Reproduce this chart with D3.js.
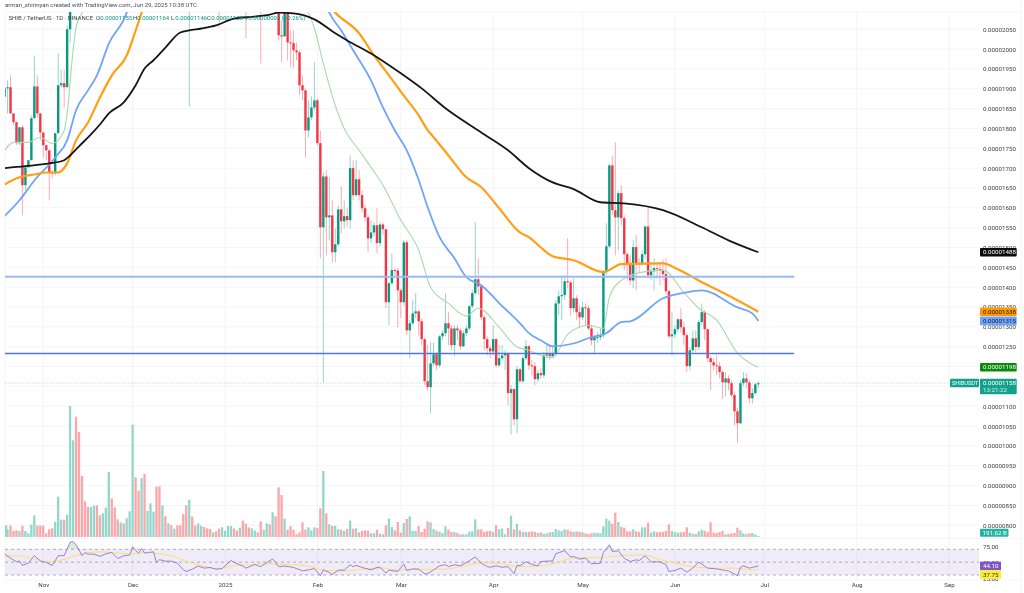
<!DOCTYPE html>
<html><head><meta charset="utf-8">
<script src="https://d3js.org/d3.v7.min.js"></script>
<style>
html,body{margin:0;padding:0;background:#fff;overflow:hidden}
svg{display:block;font-family:Roboto,"Liberation Sans",sans-serif;filter:blur(0.3px)}
</style></head><body>
<svg id="c" width="1024" height="593"></svg>
<script>
// Prices are in units of 0.00000001 USDT. Day index 0 = 2024-10-19, one candle per day.
const firstDay = new Date(Date.UTC(2024,9,19));
const firstOpen = 1880;
const closes = [1901,1904,1838,1816,1763,1803,1657,1702,1720,1826,1906,1838,1790,1758,1745,1690,1687,1788,1909,1914,1904,2050,2185,
2400,2350,2300,2250,2220,2210,2240,2260,2240,2230,2250,2300,2420,2380,2350,2330,2350,2340,2360,2420,2650,2550,2500,2600,2520,2540,2570,2600,2480,2380,2420,2400,2420,2400,2420,2400,2380,2320,2220,2250,2200,2170,2190,2210,2190,2170,2160,2180,2165,2150,2175,2190,2210,2230,2215,2200,2220,2190,2160,2140,2160,2170,2160,2130,2150,2190,2170,2200,2170,
2035,2032,2103,2017,2015,1997,1992,1909,1896,1795,1828,1853,1871,1763,1551,1679,1576,1581,1488,1508,1596,1566,1579,1569,1700,1632,1672,1632,1599,1576,1523,1538,1556,1511,1558,1546,1362,1410,1443,1442,1392,1362,1513,1291,1309,1334,1339,1314,1269,1163,1148,1208,1231,1203,1276,1284,1309,1296,1254,1296,1291,1251,1284,1296,1352,1385,1420,1402,1324,1269,1246,1238,1269,1203,1221,1228,1233,1133,1143,1067,1193,1163,1221,1251,1203,1201,1168,1183,1178,1228,1231,1226,1233,1359,1377,1380,1415,1412,1347,1372,1337,1324,1349,1347,1296,1266,1274,1274,1279,1438,1503,1707,1594,1576,1637,1574,1483,1460,1417,1501,1460,1458,1483,1553,1430,1440,1448,1446,1443,1433,1390,1276,1281,1294,1319,1299,1279,1201,1241,1271,1249,1312,1337,1294,1221,1211,1203,1201,1186,1160,1170,1158,1128,1087,1057,1158,1170,1160,1120,1133,1155,1158];
const highs = [1904,1921,1934,1838,1816,1803,1808,1707,1720,1833,1984,1934,1838,1790,1758,1745,1695,1788,1989,1947,1947,2060,2210,
2440,2420,2380,2320,2280,2260,2290,2300,2290,2270,2290,2340,2470,2440,2400,2370,2380,2380,2400,2460,2700,2680,2580,2640,2620,2580,2610,2650,2620,2500,2470,2450,2450,2440,2450,2440,2420,2400,2340,2300,2270,2220,2230,2250,2230,2210,2190,2210,2200,2180,2200,2220,2240,2260,2250,2230,2250,2240,2200,2180,2190,2200,2190,2170,2180,2220,2210,2230,2220,
2103,2073,2110,2110,2047,2047,2017,1997,1934,1901,1871,1881,1967,1876,1795,1689,1695,1677,1619,1548,1606,1654,1619,1601,1732,1720,1720,1695,1644,1606,1581,1569,1564,1599,1564,1564,1546,1412,1485,1448,1448,1397,1518,1518,1317,1367,1385,1342,1322,1271,1254,1261,1261,1236,1279,1291,1385,1337,1304,1304,1304,1296,1291,1304,1354,1392,1564,1473,1405,1329,1276,1254,1304,1271,1254,1254,1241,1236,1153,1145,1201,1196,1228,1266,1254,1216,1211,1191,1196,1236,1254,1254,1254,1367,1392,1430,1430,1523,1417,1422,1380,1354,1362,1359,1354,1304,1279,1286,1296,1443,1561,1712,1732,1765,1644,1657,1581,1488,1480,1518,1531,1473,1493,1556,1601,1463,1473,1463,1463,1470,1473,1392,1337,1304,1322,1347,1312,1286,1249,1291,1291,1317,1359,1342,1296,1228,1221,1228,1211,1191,1186,1178,1165,1135,1095,1165,1186,1183,1165,1145,1160,1164];
const lows = [1879,1838,1838,1808,1758,1758,1581,1644,1702,1720,1826,1826,1770,1727,1720,1619,1674,1682,1788,1904,1853,1904,2015,
2170,2320,2270,2220,2190,2180,2190,2220,2220,2200,2210,2240,2290,2360,2320,2300,2310,2310,2320,2350,2400,2500,2470,2480,2490,2500,2520,2560,2460,2350,2360,2370,2390,2380,2390,2380,2350,2300,2200,1855,2170,2140,2150,2170,2160,2140,2130,2140,2140,2055,2130,2160,2170,2190,2180,2170,2180,2160,2027,2110,2120,2140,2130,1964,2110,2140,2140,2150,2140,
2022,1967,2032,1972,1954,1952,1972,1884,1871,1727,1778,1821,1846,1758,1473,1160,1480,1518,1463,1463,1503,1536,1548,1553,1548,1619,1627,1619,1589,1564,1488,1511,1528,1485,1503,1531,1347,1304,1405,1430,1299,1322,1354,1279,1221,1304,1322,1279,1254,1153,1140,1082,1201,1191,1198,1266,1276,1254,1241,1226,1266,1241,1249,1276,1291,1347,1380,1380,1317,1241,1228,1221,1228,1196,1198,1216,1191,1102,1029,1052,1032,1158,1158,1216,1191,1178,1153,1160,1170,1170,1221,1216,1221,1228,1329,1317,1367,1397,1329,1337,1317,1296,1317,1304,1291,1254,1233,1259,1266,1271,1430,1498,1581,1480,1493,1556,1443,1417,1405,1397,1392,1438,1455,1473,1422,1417,1392,1422,1405,1417,1380,1271,1228,1271,1286,1286,1254,1186,1191,1236,1236,1241,1304,1266,1211,1140,1191,1178,1170,1118,1125,1140,1123,1052,1007,1055,1150,1145,1107,1107,1128,1146];
// Relative volume, last bar = 191.62 B
const volumes = [35,23,34,19,20,18,34,18,11,37,65,34,35,34,11,23,26,45,121,52,52,67,393,290,361,315,183,107,90,90,94,95,65,71,88,195,116,89,53,44,41,56,77,337,179,139,177,189,78,101,76,151,152,95,62,41,35,25,35,35,69,95,112,61,34,41,34,30,26,24,14,17,25,29,19,33,33,26,19,28,49,40,29,26,19,14,47,22,41,38,74,62,149,126,55,22,32,22,8,14,44,22,29,20,29,27,86,198,71,38,33,33,23,22,18,24,49,25,26,14,18,20,19,11,11,22,10,8,35,55,30,20,45,
13,42,54,62,18,18,33,15,25,47,44,24,19,16,12,32,22,15,15,12,8,8,8,16,17,53,23,23,15,17,18,15,35,23,25,8,27,64,23,40,20,15,15,15,17,15,12,14,10,11,14,15,24,20,18,23,22,17,15,17,15,14,11,9,11,13,12,11,32,55,49,40,73,45,31,28,17,17,23,17,15,29,29,43,13,17,14,15,15,18,38,18,15,13,14,15,29,13,10,9,17,22,19,15,44,13,12,15,18,8,9,11,12,28,20,11,8,11,12,8,3];

const maBlackDays = [0,7,15,20,22,25,29,32,35,40,44,47,50,54,59,62,66,71,77,84,89,92,97,104,111,115,123,133,140,148,160,169,176,184,191,200,208,221,234,243,253];
const maBlack = [1700,1705,1712,1720,1732,1755,1785,1810,1838,1866,1909,1951,1972,2004,2042,2047,2052,2060,2077,2082,2087,2092,2090,2075,2040,2022,1989,1939,1901,1851,1790,1745,1700,1664,1647,1614,1611,1594,1551,1518,1488];
const maOrangeDays = [0,5,10,14,18,21,24,28,32,36,41,44,46,48,60,75,90,104,111,119,124,129,134,139,142,144,149,155,160,166,173,176,180,184,191,201,207,221,226,233,246,253];
const maOrange = [1659,1677,1684,1689,1689,1712,1770,1815,1878,1934,1984,2047,2092,2140,2260,2300,2290,2160,2092,2040,1984,1934,1883,1833,1796,1778,1732,1677,1652,1599,1538,1526,1500,1478,1468,1438,1458,1460,1445,1417,1367,1338];
const maBlueDays = [0,5,10,17,21,24,28,31,35,41,44,55,70,85,100,108,109,113,117,123,127,131,135,139,142,146,151,155,160,166,173,176,180,184,191,197,202,207,210,221,229,234,246,251,253];
const maBlue = [1579,1619,1669,1727,1770,1846,1896,1934,2014,2092,2170,2400,2450,2350,2200,2110,2092,2047,1997,1921,1853,1795,1745,1670,1602,1526,1473,1425,1405,1360,1309,1284,1266,1251,1258,1274,1284,1312,1314,1372,1387,1392,1349,1334,1315];
const maGreenDays = [0,3,8,12,16,20,21,23,24,26,30,45,60,75,85,98,102,104,107,111,114,119,123,127,133,139,143,149,155,159,166,172,176,180,184,189,196,201,203,207,214,221,228,233,239,246,253];
const maGreen = [1745,1765,1765,1778,1762,1795,1838,1997,2055,2092,2250,2550,2500,2230,2200,2130,2092,2052,1964,1858,1800,1745,1702,1657,1569,1493,1400,1359,1327,1347,1299,1249,1241,1228,1223,1281,1304,1296,1375,1417,1438,1443,1387,1347,1317,1234,1198];

const rsiDays = [0,2,4,5,6,8,10,12,14,16,18,20,22,23,24,25,26,27,28,30,32,34,36,38,40,42,43,44,45,46,47,48,50,51,52,54,56,58,60,61,63,65,67,69,71,73,76,77,80,81,84,86,88,90,92,94,97,100,102,104,106,107,109,110,112,114,116,117,118,120,123,125,126,128,129,132,134,135,137,139,141,142,144,146,148,149,151,153,156,158,160,162,163,165,167,169,171,172,173,175,177,179,180,184,185,188,190,191,193,195,197,200,201,203,204,206,208,210,212,213,215,217,220,222,223,225,227,229,231,233,236,239,242,243,246,247,248,250,253];
const rsiValues = [63,56,50.5,52,45,48.5,60,52,49.5,45,60,60,81,82,77,69,60,65,62.5,62.5,59,63,65,55.7,60,61,74,68,64,71,64,65,66,49.5,54,51.5,51.5,48.5,38,35.5,39,44,40.7,41.7,39,40,52.6,49.5,44,40.7,46.4,43,49.5,55,43,44,41.7,36.5,38,40,29,38,34,31,37.5,37.5,46,43,45,41.7,38,41.7,42,33,37.5,35.5,47,37,39.6,39,32,32,38,44.3,46,43,46,44.3,52,58,48.4,43,42,44.3,42,43,32,45,44.3,50.5,46.4,44.3,51,52,63,68,57.8,58.8,54.7,56.2,47.5,48.4,65,77,66.6,67.6,56,51,53.6,52.6,60,50.5,50.5,46,35.5,37,40.7,34.4,40.7,50,40.7,39.6,37,36.5,28.7,42.2,44.3,40.7,44.1];
const rsiMaDays = [0,4,10,15,21,26,32,36,43,48,52,57,61,66,71,77,82,88,94,101,108,115,121,127,132,138,147,155,161,166,173,181,185,192,200,205,214,220,225,231,239,245,249,253];
const rsiMa = [58.8,59.8,54.7,50,56,63,66,65,62.8,65,62.8,58.6,51,45,39.7,44.4,46.4,47.5,46.4,44.8,37,36.5,39.6,40.7,37.5,39,39,44.8,48.9,47.9,43,44.3,48.9,56.8,56.8,59.3,61.4,54,48.9,42.7,40.7,40.7,38.6,37.75];

const levelPrices = [1426,1233];
const levelColors = ["#9bb8fb","#4f74e6"];
const levelEnd = new Date(Date.UTC(2025,6,11));
// Grid sits at every 50; the 1150 and 1200 labels are fully covered by price tags in the reference.
const gridPrices = d3.range(800,2051,50);
const priceTicks = gridPrices.filter(p=>p!==1150&&p!==1200);
const monthDates = [[2024,10],[2024,11],[2025,0],[2025,1],[2025,2],[2025,3],[2025,4],[2025,5],[2025,6],[2025,7],[2025,8]].map(d=>new Date(Date.UTC(d[0],d[1],1)));
const monthLabels = ["Nov","Dec","2025","Feb","Mar","Apr","May","Jun","Jul","Aug","Sep"];
const titleText = "arman_shirinyan created with TradingView.com, Jun 29, 2025 10:38 UTC";
const symbolText = "SHIB / TetherUS · 1D · BINANCE";
const ohlcNames = ["O","H","L","C"];
const ohlcValues = ["0.00001155","0.00001164","0.00001146","0.00001158"];
const changeText = "+0.00000003 (+0.26%)";

const UP="#089981", DOWN="#f23645";
const svg=d3.select("#c");
const paneL=5,paneR=979,paneT=12,volBase=537,rsiBottom=580;

const x=d3.scaleUtc().domain([monthDates[0],monthDates[10]]).range([43.3,949]);
const dayX=i=>x(d3.utcDay.offset(firstDay,i));
const y=d3.scaleLinear().domain([800,2050]).range([525.2,29.3]);
const yVol=d3.scaleLinear().domain([0,393]).range([volBase,406]);
const yRsi=d3.scaleLinear().domain([30,70]).range([575,549.3]);
const fmtPrice=v=>(v*1e-8).toFixed(8);

const defs=svg.append("defs");
defs.append("clipPath").attr("id","main").append("rect").attr("x",paneL).attr("y",paneT).attr("width",paneR-paneL).attr("height",volBase-paneT);
defs.append("clipPath").attr("id","over").append("rect").attr("x",paneL).attr("y",540).attr("width",paneR-paneL).attr("height",yRsi(70)-540);
defs.append("clipPath").attr("id","under").append("rect").attr("x",paneL).attr("y",yRsi(30)).attr("width",paneR-paneL).attr("height",rsiBottom-yRsi(30));

// grid
const grid=svg.append("g").attr("stroke","#f2f3f6").attr("stroke-width",0.8);
grid.selectAll("line.h").data(gridPrices).join("line").attr("class","h").attr("x1",paneL).attr("x2",paneR).attr("y1",d=>y(d)).attr("y2",d=>y(d));
grid.selectAll("line.v").data(monthDates).join("line").attr("class","v").attr("x1",d=>x(d)).attr("x2",d=>x(d)).attr("y1",paneT).attr("y2",rsiBottom-1);
grid.append("line").attr("x1",paneL).attr("x2",paneL).attr("y1",paneT).attr("y2",rsiBottom);
grid.append("line").attr("x1",1021).attr("x2",1021).attr("y1",0).attr("y2",593);
grid.append("line").attr("x1",paneL).attr("x2",1021).attr("y1",538.5).attr("y2",538.5);
grid.append("line").attr("x1",paneL).attr("x2",1021).attr("y1",rsiBottom).attr("y2",rsiBottom);
grid.append("line").attr("x1",paneL).attr("x2",1021).attr("y1",paneT).attr("y2",paneT);

const days=closes.map((c,i)=>({i,c,h:highs[i],l:lows[i],o:i?closes[i-1]:firstOpen,v:volumes[i]}));

// volume
svg.append("g").selectAll("rect").data(days).join("rect")
 .attr("x",d=>Math.max(paneL,dayX(d.i)-1.2)).attr("width",2.3)
 .attr("y",d=>yVol(d.v)).attr("height",d=>volBase-yVol(d.v))
 .attr("fill",d=>d.c>=d.o?"#93d6cb":"#f9a7a9");

// RSI
svg.append("rect").attr("x",paneL).attr("width",paneR-paneL).attr("y",yRsi(70)).attr("height",yRsi(30)-yRsi(70)).attr("fill","#7e57c2").attr("fill-opacity",0.12);
const rsiG=svg.append("g");
[70,50,30].forEach(v=>rsiG.append("line").attr("x1",paneL).attr("x2",paneR).attr("y1",yRsi(v)).attr("y2",yRsi(v)).attr("stroke","#a09aae").attr("stroke-width",0.8).attr("stroke-dasharray","3 3"));
const rsiPts=rsiDays.map((d,k)=>[dayX(d),rsiValues[k]]);
const rsiArea=base=>d3.area().x(p=>p[0]).y0(yRsi(base)).y1(p=>yRsi(p[1]));
svg.append("path").attr("d",rsiArea(70)(rsiPts)).attr("fill","#4caf50").attr("fill-opacity",0.22).attr("clip-path","url(#over)");
svg.append("path").attr("d",rsiArea(30)(rsiPts)).attr("fill","#f23645").attr("fill-opacity",0.18).attr("clip-path","url(#under)");
svg.append("path").attr("d",d3.line().x(p=>p[0]).y(p=>yRsi(p[1])).curve(d3.curveMonotoneX)(rsiMaDays.map((d,k)=>[dayX(d),rsiMa[k]]))).attr("fill","none").attr("stroke","#f7e36a").attr("stroke-width",1);
svg.append("path").attr("d",d3.line().x(p=>p[0]).y(p=>yRsi(p[1]))(rsiPts)).attr("fill","none").attr("stroke","#9a7fd6").attr("stroke-width",1);

const main=svg.append("g").attr("clip-path","url(#main)");
// candles
const candles=main.selectAll("g").data(days).join("g");
candles.append("line").attr("x1",d=>dayX(d.i)).attr("x2",d=>dayX(d.i)).attr("y1",d=>y(d.h)).attr("y2",d=>y(d.l))
 .attr("stroke",d=>d.c>=d.o?UP:DOWN).attr("stroke-width",1).attr("stroke-opacity",0.42);
candles.append("rect").attr("x",d=>dayX(d.i)-1.2).attr("width",2.4)
 .attr("y",d=>y(Math.max(d.o,d.c))).attr("height",d=>Math.max(1,Math.abs(y(d.o)-y(d.c))))
 .attr("fill",d=>d.c>=d.o?UP:DOWN);

// price line
const lastClose=closes[closes.length-1];
svg.append("line").attr("x1",paneL).attr("x2",950).attr("y1",y(lastClose)).attr("y2",y(lastClose)).attr("stroke",UP).attr("stroke-opacity",0.32).attr("stroke-width",0.8).attr("stroke-dasharray","1.5 1.5");

// levels
levelPrices.forEach((p,k)=>svg.append("line").attr("x1",paneL).attr("x2",x(levelEnd)).attr("y1",y(p)).attr("y2",y(p)).attr("stroke",levelColors[k]).attr("stroke-width",k?1.5:2));

// moving averages
const ma=(days_,vals,color,w)=>main.append("path").attr("d",d3.line().x(p=>p[0]).y(p=>y(p[1])).curve(d3.curveMonotoneX)(days_.map((d,k)=>[dayX(d),vals[k]]))).attr("fill","none").attr("stroke",color).attr("stroke-width",w).attr("stroke-linejoin","round");
ma(maGreenDays,maGreen,"#a9d9ab",1.1);
ma(maBlueDays,maBlue,"#6ea5fa",1.8);
ma(maOrangeDays,maOrange,"#ff9f14",2.2);
ma(maBlackDays,maBlack,"#161616",1.8);

// axes
const fontSize=6.2;
const ax=svg.append("g").attr("transform","translate(983,0)").call(d3.axisRight(y).tickValues(priceTicks).tickSize(0).tickPadding(0).tickFormat(fmtPrice));
ax.select(".domain").remove();
ax.selectAll("text").attr("font-size",fontSize).attr("font-family","Roboto").attr("fill","#3a3e4a");
const axB=svg.append("g").attr("transform","translate(0,583)").call(d3.axisBottom(x).tickValues(monthDates).tickSize(0).tickPadding(0).tickFormat((d,k)=>monthLabels[k]));
axB.select(".domain").remove();
axB.selectAll("text").attr("font-size",fontSize).attr("font-family","Roboto").attr("fill","#3a3e4a");
const axR=svg.append("g").attr("transform","translate(983,0)").call(d3.axisRight(yRsi).tickValues([75,50,25]).tickSize(0).tickPadding(0).tickFormat(d=>d.toFixed(2)));
axR.select(".domain").remove();
axR.selectAll("text").attr("font-size",fontSize).attr("font-family","Roboto").attr("fill","#3a3e4a");

// text
const txt=(t,px,py,fill,a)=>svg.append("text").text(t).attr("x",px).attr("y",py).attr("fill",fill||"#3a3e4a").attr("font-size",6).attr("text-anchor",a||"start");
txt(titleText,5,7,"#4a4e5a");
txt(symbolText,8.5,20,"#3a3e4a");
[96,133,171,207].forEach((px,k)=>{ txt(ohlcNames[k],px,20,"#3a3e4a"); txt(ohlcValues[k],px+4.3,20,UP); });
txt(changeText,245,20,UP);

// price labels
const tag=(label,cy,fill,color,w,h)=>{ h=h||8.6; w=w||36.7;
 svg.append("rect").attr("x",980).attr("y",cy-h/2).attr("width",w).attr("height",h).attr("rx",1).attr("fill",fill);
 svg.append("text").text(label).attr("x",983).attr("y",cy+2.1).attr("font-size",fontSize).attr("fill",color);
};
tag(fmtPrice(maBlack[maBlack.length-1]),y(maBlack[maBlack.length-1]),"#0c0c0c","#fff");
tag(fmtPrice(maOrange[maOrange.length-1]),y(maOrange[maOrange.length-1]),"#ff9800","#222");
tag(fmtPrice(maBlue[maBlue.length-1]),y(maBlue[maBlue.length-1]),"#6ea5fa","#222");
tag(fmtPrice(maGreen[maGreen.length-1]),y(maGreen[maGreen.length-1]),"#0c8a0c","#fff");
// current price tag
const py=y(lastClose);
svg.append("rect").attr("x",980).attr("y",py-4.4).attr("width",36.7).attr("height",15.4).attr("rx",1).attr("fill","#15a08c");
svg.append("text").text(fmtPrice(lastClose)).attr("x",983).attr("y",py+2).attr("font-size",fontSize).attr("fill","#fff");
svg.append("text").text("13:21:22").attr("x",983).attr("y",py+9).attr("font-size",fontSize).attr("fill","#d5f0ea");
svg.append("rect").attr("x",950).attr("y",py-4.4).attr("width",29).attr("height",8.6).attr("rx",1).attr("fill","#15a08c");
svg.append("text").text("SHIBUSDT").attr("x",952).attr("y",py+2).attr("font-size",5.6).attr("fill","#fff");
// volume + RSI tags
svg.append("rect").attr("x",980).attr("y",528.8).attr("width",28.5).attr("height",8).attr("rx",1).attr("fill","#26b3a3");
svg.append("text").text("191.62 B").attr("x",982.5).attr("y",534.9).attr("font-size",fontSize).attr("fill","#fff");
const rsiLast=rsiValues[rsiValues.length-1], rsiMaLast=rsiMa[rsiMa.length-1];
svg.append("rect").attr("x",980).attr("y",yRsi(rsiLast)-4.3).attr("width",21).attr("height",8.4).attr("fill","#7e57c2");
svg.append("text").text(rsiLast.toFixed(2)).attr("x",983).attr("y",yRsi(rsiLast)+2.1).attr("font-size",fontSize).attr("fill","#fff");
svg.append("rect").attr("x",980).attr("y",yRsi(rsiLast)+4.1).attr("width",21).attr("height",8.8).attr("fill","#fdeb3b");
svg.append("text").text(rsiMaLast.toFixed(2)).attr("x",983).attr("y",yRsi(rsiLast)+10.7).attr("font-size",fontSize).attr("fill","#333");
</script>
</body></html>
